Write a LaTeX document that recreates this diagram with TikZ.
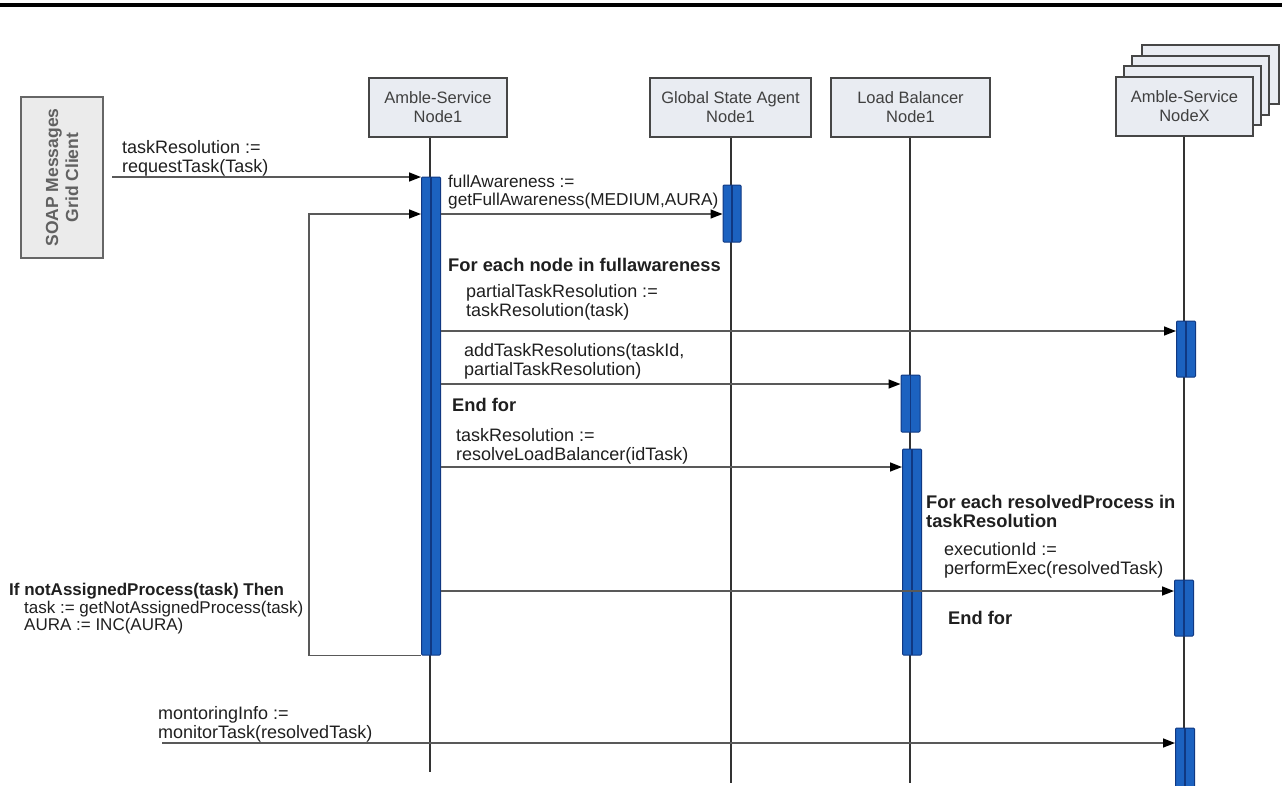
\documentclass[tikz,border=0pt]{standalone}
\usepackage{fontspec}
\setmainfont{Liberation Sans}
\usetikzlibrary{arrows.meta}
\definecolor{barblue}{RGB}{28,98,192}
\definecolor{bardark}{RGB}{16,56,130}
\definecolor{headfill}{RGB}{233,236,242}
\definecolor{linegray}{RGB}{70,70,70}

\begin{document}
\begin{tikzpicture}
[x=1pt, y=-1pt,
head/.style={draw=linegray, line width=1.5pt, fill=headfill, text=black!75, align=center, font=\fontsize{16.5}{19}\selectfont, minimum height=59pt, inner sep=0pt},
bar/.style={draw=bardark, fill=barblue, line width=1pt, minimum width=19pt, inner sep=0pt, rounded corners=1pt, path picture={\draw[bardark, line width=1.2pt] (path picture bounding box.north) -- (path picture bounding box.south);}},
life/.style={draw=black!80, line width=1.5pt},
msg/.style={draw=black!65, line width=1.5pt, -{Triangle[length=12pt,width=9pt,color=black]}},
txt/.style={inner sep=0pt, anchor=north west, align=left, text=black!88, font=\fontsize{18}{19}\selectfont},
btxt/.style={txt, font=\fontsize{18.3}{19}\selectfont\bfseries}]

\useasboundingbox (0,0) rectangle (1282,785);
\draw[line width=4pt] (0,5) -- (1282,5);

\node[draw=black!60, line width=1.5pt, fill=black!8, minimum width=161pt, minimum height=82pt, rotate=90, text=black!62, font=\fontsize{17.5}{20}\selectfont\bfseries, align=center, inner sep=0pt] (client) at (62,177.5) {SOAP Messages\\Grid Client};

\node[head, minimum width=138pt] (asn1) at (438,107.5) {Amble-Service\\Node1};
\node[head, minimum width=161pt] (gsa) at (730.5,107.5) {Global State Agent\\Node1};
\node[head, minimum width=159pt] (lb) at (910.5,107.5) {Load Balancer\\Node1};
\foreach \i/\dx/\dy in {3/26/32,2/16/21,1/8/11}
	\node[head, minimum width=137pt, xshift=\dx pt, yshift=\dy pt] (nxback\i) at (1184.5,106.5) {};
\node[head, minimum width=137pt] (nx) at (1184.5,106.5) {Amble-Service\\NodeX};

% lifelines
\coordinate (e1) at (430,772);
\coordinate (e2) at (731,783);
\coordinate (e3) at (910,783);
\coordinate (e4) at (1184,785);
\draw[life] (asn1.south -| e1) -- (e1);
\draw[life] (gsa.south -| e2) -- (e2);
\draw[life] (lb.south -| e3) -- (e3);
\draw[life] (nx.south -| e4) -- (e4);

\node[bar, minimum height=478pt] (b1) at (431,416) {};
\node[bar, minimum width=18pt, minimum height=57pt] (b2) at (732,213.5) {};
\node[bar, minimum height=56pt] (b3) at (1186,349) {};
\node[bar, minimum height=57pt] (b4) at (910.5,403.5) {};
\node[bar, minimum height=206pt] (b5) at (912,552) {};
\node[bar, minimum height=56pt] (b6) at (1184,608) {};
\node[bar, minimum height=60pt] (b7) at (1185,758) {};

% messages
\coordinate (cin) at (112,177);
\draw[msg] (cin) -- (cin -| b1.west);
\foreach \y/\t in {214/b2, 331/b3, 384/b4, 467/b5, 591/b6}
	\draw[msg] (b1.east |- 0,\y) -- (\t.west |- 0,\y);
\coordinate (lp) at (309,0);
\draw[msg] (b1.south west) -- (b1.south west -| lp) |- (b1.west |- 0,214);
\coordinate (mon) at (162,743);
\draw[msg] (mon) -- (mon -| b7.west);

\node[txt] (req) at (122,140) {taskResolution :=\\requestTask(Task)};
\node[txt, font=\fontsize{17.2}{18}\selectfont] (full) at (448,175) {fullAwareness :=\\getFullAwareness(MEDIUM,AURA)};
\node[btxt] (for1) at (448,258) {For each node in fullawareness};
\node[txt] (partial) at (466,284) {partialTaskResolution :=\\taskResolution(task)};
\node[txt] (add) at (464,343) {addTaskResolutions(taskId,\\partialTaskResolution)};
\node[btxt] (endfor1) at (452,398) {End for};
\node[txt] (resolve) at (456,428) {taskResolution :=\\resolveLoadBalancer(idTask)};
\node[btxt] (for2) at (926,495) {For each resolvedProcess in\\taskResolution};
\node[txt] (exec) at (944,542) {executionId :=\\performExec(resolvedTask)};
\node[btxt] (endfor2) at (948,611) {End for};
\node[txt, font=\fontsize{17}{17.5}\selectfont] (ifnot) at (9,583) {\textbf{If notAssignedProcess(task) Then}\\\hspace*{15pt}task := getNotAssignedProcess(task)\\\hspace*{15pt}AURA := INC(AURA)};
\node[txt] (monitor) at (158,706) {montoringInfo :=\\monitorTask(resolvedTask)};
\end{tikzpicture}
\end{document}
